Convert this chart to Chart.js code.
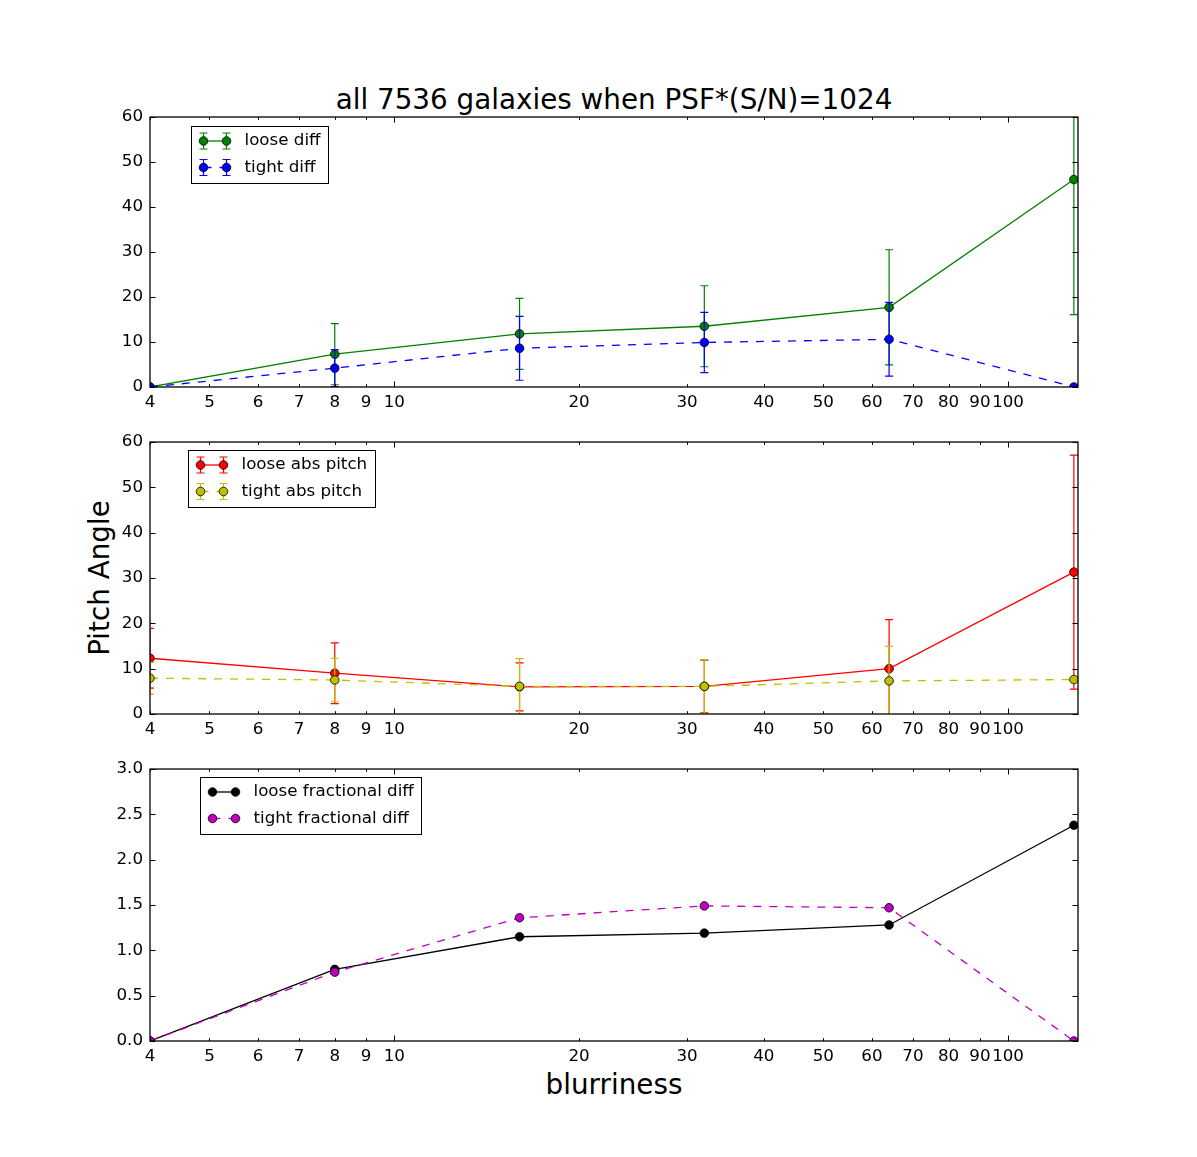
<!DOCTYPE html>
<html>
<head>
<meta charset="utf-8">
<script src="https://cdn.jsdelivr.net/npm/chart.js@4.4.0/dist/chart.umd.min.js"></script>
<style>
  body { margin: 0; background: #fff; width: 1197px; height: 1157px; position: relative; overflow: hidden; font-family: "DejaVu Sans"; }
  canvas { position: absolute; left: 0; }
  .lbl { position: absolute; font-size: 27.8px; line-height: 28px; color: #000; white-space: nowrap; }
</style>
</head>
<body>
<div class="lbl" style="left:150px; width:928px; top:86px; text-align:center;">all 7536 galaxies when PSF*(S/N)=1024</div>
<div class="lbl" style="left:150px; width:928px; top:1071px; text-align:center;">blurriness</div>
<div class="lbl" style="left:-50px; width:300px; top:564px; text-align:center; transform:rotate(-90deg);">Pitch Angle</div>

<canvas id="c1" width="1197" height="320" style="top:100px"></canvas>
<canvas id="c2" width="1197" height="320" style="top:425px"></canvas>
<canvas id="c3" width="1197" height="320" style="top:752px"></canvas>

<script>
// blurriness values and x tick labels
const xVals = [4, 8, 16, 32, 64, 128];
const xTickVals = [4, 5, 6, 7, 8, 9, 10, 20, 30, 40, 50, 60, 70, 80, 90, 100];

// top panel
const looseDiff    = [0, 7.3, 11.8, 13.5, 17.7, 46.1];
const looseDiffErr = [0, 6.8, 7.9, 9.0, 12.8, 30.0];
const tightDiff    = [0, 4.2, 8.6, 9.9, 10.6, 0];
const tightDiffErr = [0, 4.1, 7.1, 6.7, 8.2, 0];

// middle panel
const looseAbs    = [12.3, 9.0, 6.0, 6.1, 10.0, 31.3];
const looseAbsErr = [6.6, 6.7, 5.3, 5.8, 10.8, 25.8];
const tightAbs    = [7.9, 7.5, 6.1, 6.1, 7.3, 7.6];
const tightAbsErr = [3.5, 4.8, 6.1, 5.9, 7.6, 0];

// bottom panel
const looseFrac = [0, 0.79, 1.15, 1.19, 1.28, 2.38];
const tightFrac = [0, 0.76, 1.36, 1.49, 1.47, 0];

const pitchTicks = [0, 10, 20, 30, 40, 50, 60];
const fracTicks = [0, 0.5, 1, 1.5, 2, 2.5, 3];

Chart.defaults.color = '#000';
Chart.defaults.font.family = 'DejaVu Sans';
Chart.defaults.font.size = 16.7;

const FONT = '16.7px "DejaVu Sans"';

// axes box + inward ticks, matplotlib style
const frameTicks = {
  id: 'frameTicks',
  afterDatasetsDraw(chart) {
    const ctx = chart.ctx, a = chart.chartArea;
    const xs = chart.scales.x, ys = chart.scales.y;
    ctx.save();
    ctx.strokeStyle = '#000';
    ctx.lineWidth = 1;
    ctx.beginPath();
    xs.ticks.forEach(t => {
      const px = Math.round(xs.getPixelForValue(t.value)) + 0.5;
      const len = (t.value === 10 || t.value === 100) ? 5.5 : 2.8;
      ctx.moveTo(px, a.bottom); ctx.lineTo(px, a.bottom - len);
      ctx.moveTo(px, a.top); ctx.lineTo(px, a.top + len);
    });
    ys.ticks.forEach(t => {
      const py = Math.round(ys.getPixelForValue(t.value)) + 0.5;
      ctx.moveTo(a.left, py); ctx.lineTo(a.left + 5.5, py);
      ctx.moveTo(a.right, py); ctx.lineTo(a.right - 5.5, py);
    });
    ctx.stroke();
    ctx.lineWidth = 1.3;
    ctx.strokeRect(a.left, a.top, a.right - a.left, a.bottom - a.top);
    ctx.restore();
  }
};

// vertical error bars with caps
const errorBars = {
  id: 'errorBars',
  beforeDatasetDraw(chart, args) {
    const ds = chart.data.datasets[args.index];
    if (!ds.errors) return;
    const ctx = chart.ctx, a = chart.chartArea;
    const xs = chart.scales.x, ys = chart.scales.y;
    ctx.save();
    ctx.beginPath();
    ctx.rect(a.left, a.top, a.right - a.left, a.bottom - a.top);
    ctx.clip();
    ctx.strokeStyle = ds.borderColor;
    ctx.lineWidth = 1.2;
    ds.data.forEach((p, i) => {
      const e = ds.errors[i];
      if (!e) return;
      const px = xs.getPixelForValue(p.x);
      const y1 = ys.getPixelForValue(p.y - e), y2 = ys.getPixelForValue(p.y + e);
      ctx.beginPath();
      ctx.moveTo(px, y1); ctx.lineTo(px, y2);
      ctx.moveTo(px - 4, y1); ctx.lineTo(px + 4, y1);
      ctx.moveTo(px - 4, y2); ctx.lineTo(px + 4, y2);
      ctx.stroke();
    });
    ctx.restore();
  }
};

// legend box inside the axes
const mplLegend = {
  id: 'mplLegend',
  afterDraw(chart, args, opts) {
    const ctx = chart.ctx, a = chart.chartArea;
    const list = chart.data.datasets;
    ctx.save();
    ctx.font = FONT;
    const tw = Math.max(...list.map(d => ctx.measureText(d.label).width));
    const left = Math.round(a.left + opts.dx) + 0.5, top = Math.round(a.top + opts.dy) + 0.5;
    const w = Math.round(53 + tw + 8), h = 57;
    ctx.fillStyle = '#fff';
    ctx.fillRect(left, top, w, h);
    ctx.strokeStyle = '#000';
    ctx.lineWidth = 1;
    ctx.strokeRect(left, top, w, h);
    list.forEach((d, i) => {
      const y = top + 14.5 + i * 26.5;
      const m1 = left + 12, m2 = left + 35;
      ctx.strokeStyle = d.borderColor;
      ctx.lineWidth = d.borderWidth;
      ctx.setLineDash(d.borderDash || []);
      ctx.beginPath(); ctx.moveTo(m1, y); ctx.lineTo(m2, y); ctx.stroke();
      ctx.setLineDash([]);
      [m1, m2].forEach(m => {
        if (d.errors) {
          ctx.lineWidth = 1.2;
          ctx.beginPath();
          ctx.moveTo(m, y - 8); ctx.lineTo(m, y + 8);
          ctx.moveTo(m - 4, y - 8); ctx.lineTo(m + 4, y - 8);
          ctx.moveTo(m - 4, y + 8); ctx.lineTo(m + 4, y + 8);
          ctx.stroke();
        }
        ctx.beginPath();
        ctx.arc(m, y, d.pointRadius, 0, Math.PI * 2);
        ctx.fillStyle = d.pointBackgroundColor;
        ctx.fill();
        ctx.lineWidth = d.pointBorderWidth;
        ctx.strokeStyle = '#000';
        ctx.stroke();
        ctx.strokeStyle = d.borderColor;
      });
      ctx.fillStyle = '#000';
      ctx.textBaseline = 'middle';
      ctx.fillText(d.label, left + 53, y);
    });
    ctx.restore();
  }
};

// second series of each panel is drawn on top, as in the original
function series(label, ys, errs, color, dashed, order) {
  return {
    label: label,
    data: xVals.map((x, i) => ({ x: x, y: ys[i] })),
    errors: errs,
    order: order,
    showLine: true,
    borderColor: color,
    backgroundColor: color,
    borderWidth: 1.3,
    borderDash: dashed ? [8, 8] : [],
    pointRadius: 4.3,
    pointHoverRadius: 4.3,
    pointBackgroundColor: color,
    pointBorderColor: '#000',
    pointBorderWidth: 0.8,
    tension: 0,
    clip: 0
  };
}

function makeChart(id, datasets, yMax, yTicks, yFmt, padTop, axisH, legendPos) {
  return new Chart(document.getElementById(id), {
    type: 'scatter',
    data: { datasets: datasets },
    plugins: [errorBars, frameTicks, mplLegend],
    options: {
      responsive: false,
      animation: false,
      events: [],
      layout: { padding: { top: padTop, right: 119, left: 0, bottom: 0 } },
      plugins: {
        legend: { display: false },
        tooltip: { enabled: false },
        mplLegend: legendPos
      },
      scales: {
        x: {
          type: 'logarithmic',
          min: 4, max: 130,
          afterBuildTicks: s => { s.ticks = xTickVals.map(v => ({ value: v })); },
          afterFit: s => { s.height = axisH; },
          grid: { display: false, drawTicks: false },
          border: { display: false },
          ticks: { autoSkip: false, maxRotation: 0, minRotation: 0, padding: 6, callback: v => String(v) }
        },
        y: {
          type: 'linear',
          min: 0, max: yMax,
          afterBuildTicks: s => { s.ticks = yTicks.map(v => ({ value: v })); },
          afterFit: s => { s.width = 150; },
          grid: { display: false, drawTicks: false },
          border: { display: false },
          ticks: { padding: 7, callback: yFmt }
        }
      }
    }
  });
}

makeChart('c1', [
  series('loose diff', looseDiff, looseDiffErr, '#008000', false, 1),
  series('tight diff', tightDiff, tightDiffErr, '#0000ff', true, 0)
], 60, pitchTicks, v => String(v), 15, 33, { dx: 41, dy: 9 });

makeChart('c2', [
  series('loose abs pitch', looseAbs, looseAbsErr, '#ff0000', false, 1),
  series('tight abs pitch', tightAbs, tightAbsErr, '#bfbf00', true, 0)
], 60, pitchTicks, v => String(v), 17, 31, { dx: 38, dy: 8 });

makeChart('c3', [
  series('loose fractional diff', looseFrac, null, '#000000', false, 1),
  series('tight fractional diff', tightFrac, null, '#bf00bf', true, 0)
], 3, fracTicks, v => v.toFixed(1), 17, 31, { dx: 50, dy: 8 });
</script>
</body>
</html>
